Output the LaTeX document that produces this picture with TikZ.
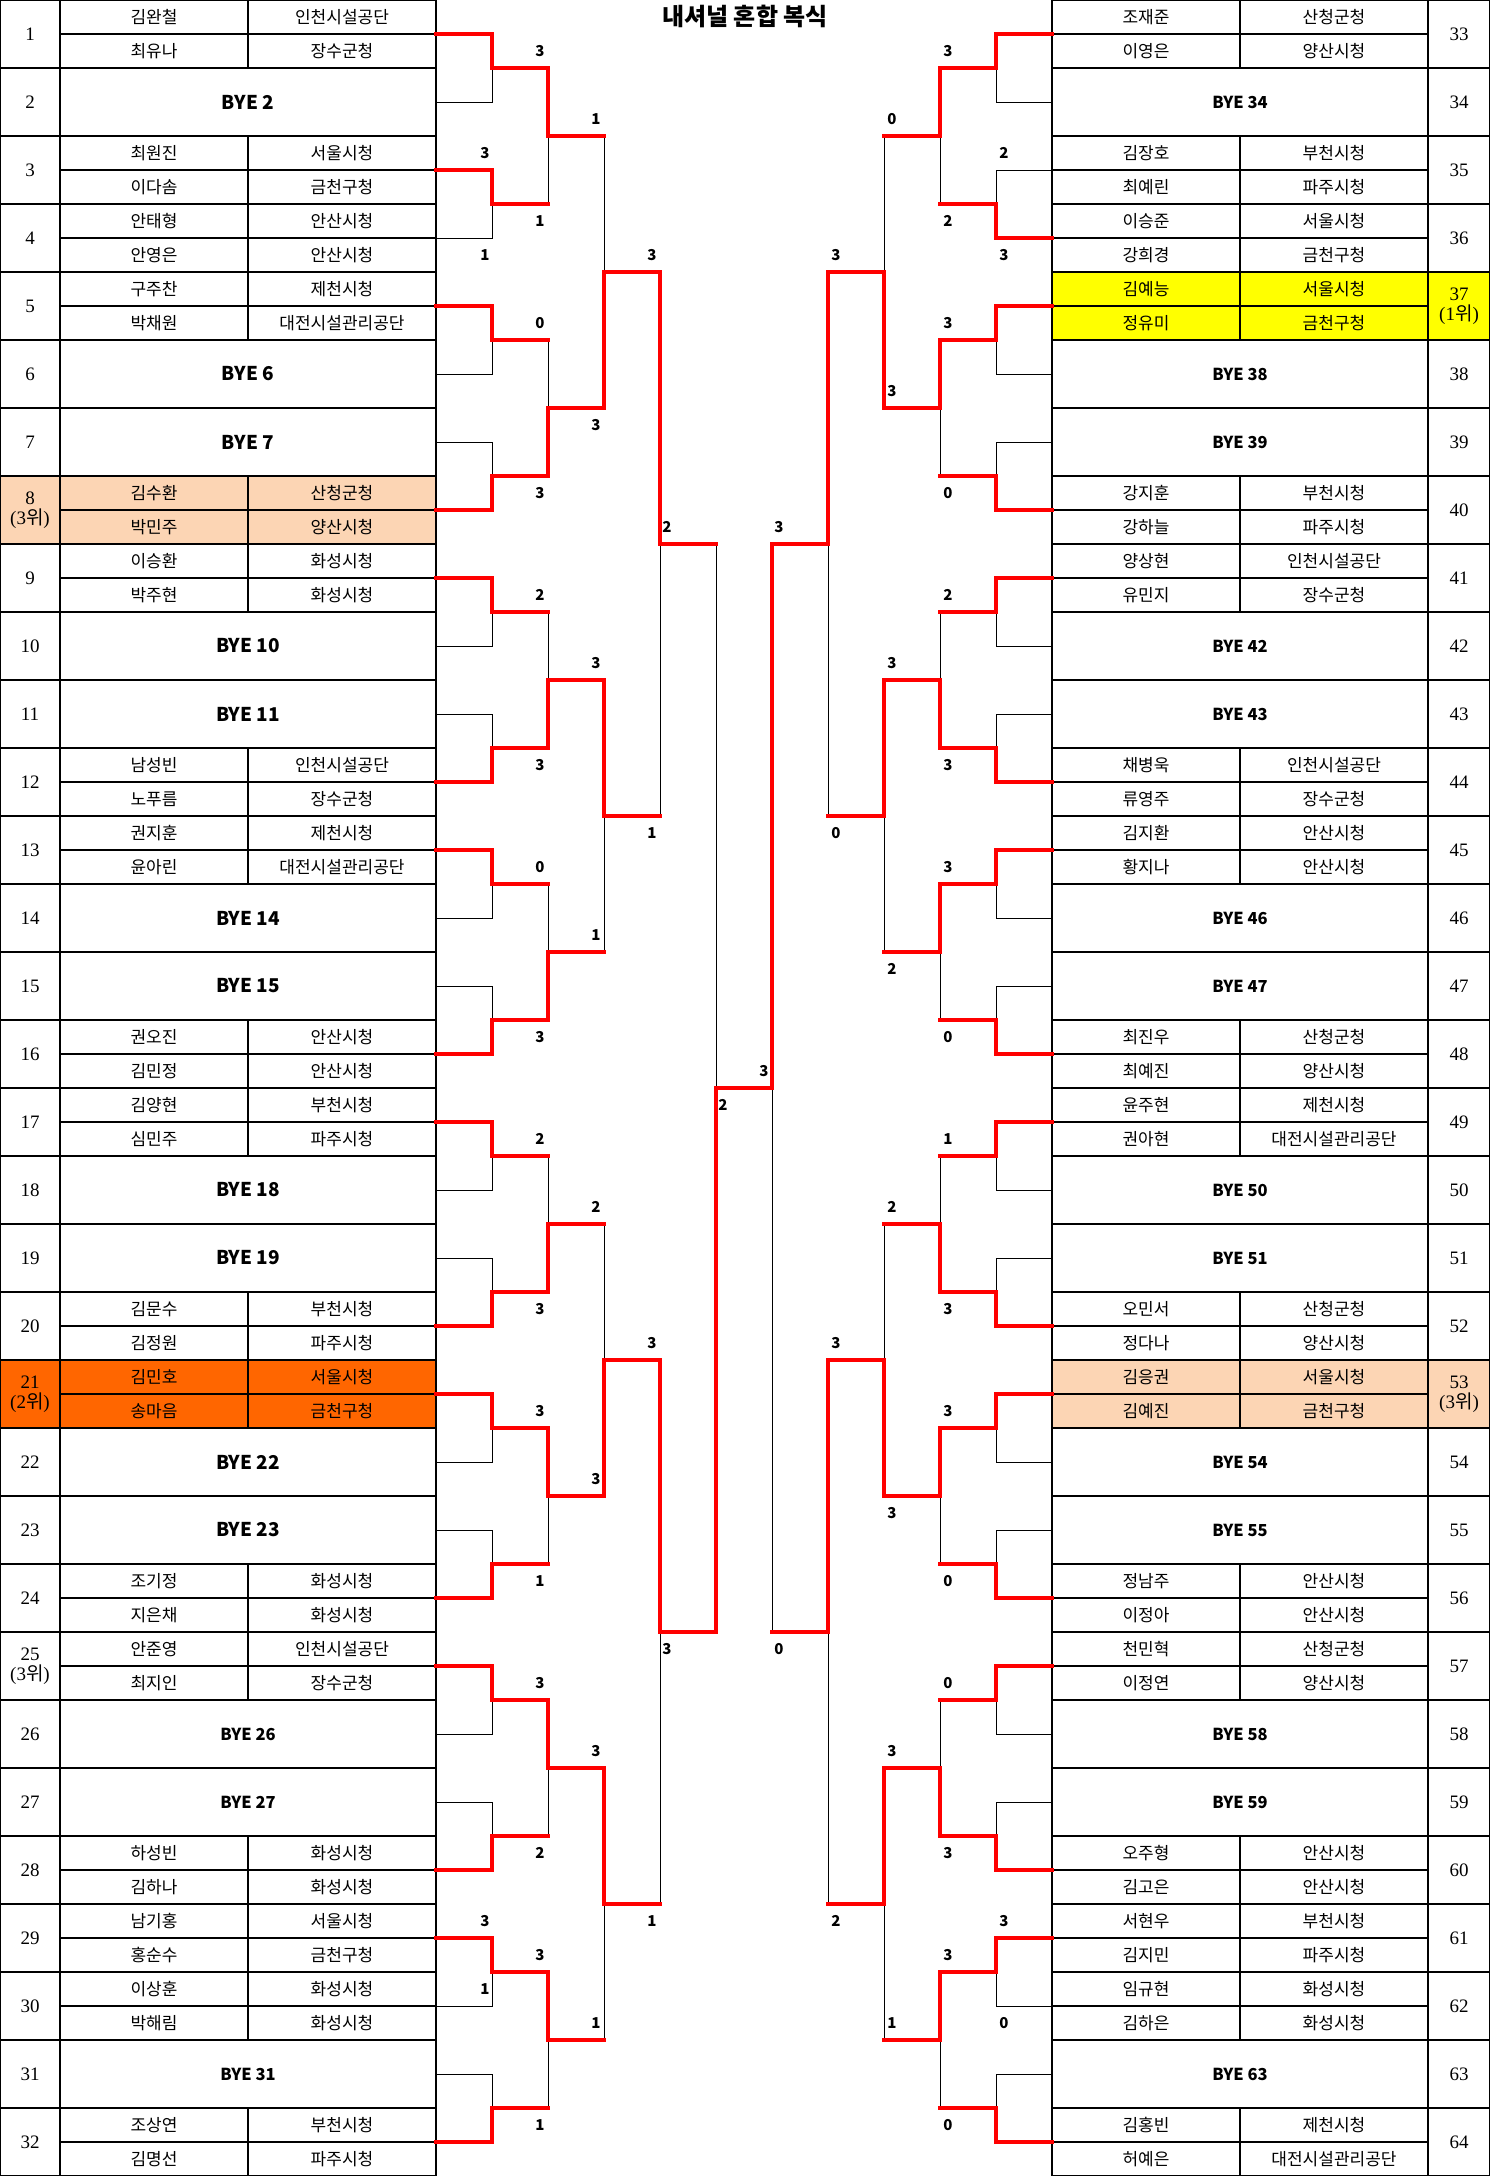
\documentclass[tikz,border=0pt]{standalone}
\usepackage{fontspec}
\setmainfont{Liberation Serif}
\newfontfamily\kr{Noto Sans CJK KR}
\usepackage{tikz}
\definecolor{peach}{HTML}{FCD5B4}
\definecolor{orng}{HTML}{FF6600}
\definecolor{yel}{HTML}{FFFF00}
\definecolor{redline}{HTML}{FF0000}
\pgfdeclarelayer{fg}
\pgfsetlayers{main,fg}
\tikzset{
  win/.style={draw=redline, line width=3.2pt, line cap=rect},
  lose/.style={draw=black, line width=1pt},
  grid/.style={draw=black, line width=1.3pt},
  who/.style={font=\kr\fontsize{17}{19}\selectfont, inner sep=0pt},
  bye/.style={font=\kr\bfseries\fontsize{19}{21}\selectfont, inner sep=0pt},
  byesm/.style={font=\kr\bfseries\fontsize{16.5}{18}\selectfont, inner sep=0pt},
  seed/.style={font=\fontsize{19}{20}\selectfont, inner sep=0pt, align=center},
  score/.style={font=\kr\bfseries\fontsize{15}{17}\selectfont, inner sep=0pt}
}
% first round: entry lines, verticals, outputs
\newcommand{\firstround}[3]{%
  \foreach \w [count=\k] in {#3} {
    \pgfmathsetmacro\yw{136*(\k-1)+34+68*\w}
    \pgfmathsetmacro\yl{136*(\k-1)+102-68*\w}
    \pgfmathsetmacro\ym{136*(\k-1)+68}
    \pgfmathsetmacro\xv{#1+(#2)*56}
    \pgfmathsetmacro\xn{#1+(#2)*112}
    \draw[lose] (#1,\yl) -- (\xv,\yl) -- (\xv,\ym);
    \begin{pgfonlayer}{fg}
      \draw[win] (#1,\yw) -- (\xv,\yw) -- (\xv,\ym) -- (\xn,\ym);
    \end{pgfonlayer}
  }
}
% later rounds: winner/top score/bottom score/bottom label side
\newcommand{\rnd}[5]{%
  \foreach \w/\sct/\scb/\dr [count=\k] in {#5} {
    \pgfmathsetmacro\sz{68*2^#4}
    \pgfmathsetmacro\yt{\sz*(\k-1)+\sz/4}
    \pgfmathsetmacro\yb{\sz*(\k-1)+3*\sz/4}
    \pgfmathsetmacro\ym{\sz*(\k-1)+\sz/2}
    \pgfmathsetmacro\yw{\w==0 ? \yt : \yb}
    \pgfmathsetmacro\yl{\w==0 ? \yb : \yt}
    \pgfmathsetmacro\yst{\yt-17}
    \pgfmathsetmacro\ysb{\yb+17*\dr}
    \pgfmathsetmacro\xv{#2+#3*56*#4}
    \pgfmathsetmacro\xn{\xv+#3*56}
    \pgfmathsetmacro\xs{\xv-#3*8}
    \draw[lose] (\xv,\yl) -- (\xv,\ym);
    \begin{pgfonlayer}{fg}
      \draw[win] (\xv,\yw) -- (\xv,\ym) -- (\xn,\ym);
    \end{pgfonlayer}
    \node[score] (#1-#4-\k-t) at (\xs,\yst) {\sct};
    \node[score] (#1-#4-\k-b) at (\xs,\ysb) {\scb};
  }
}

\begin{document}
\begin{tikzpicture}[x=1pt,y=-1pt]
\useasboundingbox (0,0) rectangle (1490,2176);
\fill[white] (0,0) rectangle (1490,2176);
% highlighted entries
\fill[peach] (0,476) rectangle (436,544);
\fill[orng] (0,1360) rectangle (436,1428);
\fill[yel] (1052,272) rectangle (1490,340);
\fill[peach] (1052,1360) rectangle (1490,1428);

% table frames
\draw[grid] (0.7,0.7) rectangle (436,2175.3);
\draw[grid] (60,0.7) -- (60,2175.3);
\draw[grid] (1052,0.7) rectangle (1489.3,2175.3);
\draw[grid] (1428,0.7) -- (1428,2175.3);
\foreach \k in {1,...,31} {
  \draw[grid] (0,68*\k) -- (436,68*\k);
  \draw[grid] (1052,68*\k) -- (1490,68*\k);
}

% left players
\foreach \i/\nmA/\tmA/\nmB/\tmB in {1/김완철/인천시설공단/최유나/장수군청,3/최원진/서울시청/이다솜/금천구청,4/안태형/안산시청/안영은/안산시청,5/구주찬/제천시청/박채원/대전시설관리공단,8/김수환/산청군청/박민주/양산시청,9/이승환/화성시청/박주현/화성시청,12/남성빈/인천시설공단/노푸름/장수군청,13/권지훈/제천시청/윤아린/대전시설관리공단,16/권오진/안산시청/김민정/안산시청,17/김양현/부천시청/심민주/파주시청,20/김문수/부천시청/김정원/파주시청,21/김민호/서울시청/송마음/금천구청,24/조기정/화성시청/지은채/화성시청,25/안준영/인천시설공단/최지인/장수군청,28/하성빈/화성시청/김하나/화성시청,29/남기홍/서울시청/홍순수/금천구청,30/이상훈/화성시청/박해림/화성시청,32/조상연/부천시청/김명선/파주시청} {
  \draw[grid] (60,68*\i-34) -- (436,68*\i-34);
  \draw[grid] (248,68*\i-68) -- (248,68*\i);
  \node[who] (na\i) at (154,68*\i-51) {\nmA};
  \node[who] (ta\i) at (342,68*\i-51) {\tmA};
  \node[who] (nb\i) at (154,68*\i-17) {\nmB};
  \node[who] (tb\i) at (342,68*\i-17) {\tmB};
}
% right players
\foreach \i/\nmA/\tmA/\nmB/\tmB in {33/조재준/산청군청/이영은/양산시청,35/김장호/부천시청/최예린/파주시청,36/이승준/서울시청/강희경/금천구청,37/김예능/서울시청/정유미/금천구청,40/강지훈/부천시청/강하늘/파주시청,41/양상현/인천시설공단/유민지/장수군청,44/채병욱/인천시설공단/류영주/장수군청,45/김지환/안산시청/황지나/안산시청,48/최진우/산청군청/최예진/양산시청,49/윤주현/제천시청/권아현/대전시설관리공단,52/오민서/산청군청/정다나/양산시청,53/김응권/서울시청/김예진/금천구청,56/정남주/안산시청/이정아/안산시청,57/천민혁/산청군청/이정연/양산시청,60/오주형/안산시청/김고은/안산시청,61/서현우/부천시청/김지민/파주시청,62/임규현/화성시청/김하은/화성시청,64/김홍빈/제천시청/허예은/대전시설관리공단} {
  \draw[grid] (1052,68*\i-2210) -- (1428,68*\i-2210);
  \draw[grid] (1240,68*\i-2244) -- (1240,68*\i-2176);
  \node[who] (na\i) at (1146,68*\i-2227) {\nmA};
  \node[who] (ta\i) at (1334,68*\i-2227) {\tmA};
  \node[who] (nb\i) at (1146,68*\i-2193) {\nmB};
  \node[who] (tb\i) at (1334,68*\i-2193) {\tmB};
}

% byes
\foreach \i in {2,6,7,10,11,14,15,18,19,22,23}
  \node[bye] (bye\i) at (248,68*\i-34) {BYE \i};
\foreach \i in {26,27,31}
  \node[byesm] (bye\i) at (248,68*\i-34) {BYE \i};
\foreach \i in {34,38,39,42,43,46,47,50,51,54,55,58,59,63}
  \node[byesm] (bye\i) at (1240,68*\i-2210) {BYE \i};

% seed numbers
\foreach \i in {1,2,3,4,5,6,7,9,10,11,...,20,22,23,24,26,27,...,32}
  \node[seed] (no\i) at (30,68*\i-34) {\i};
\node[seed] (no8) at (30,510) {8\\(3{\kr 위})};
\node[seed] (no21) at (30,1394) {21\\(2{\kr 위})};
\node[seed] (no25) at (30,1666) {25\\(3{\kr 위})};
\foreach \i in {33,34,35,36,38,39,...,52,54,55,...,64}
  \node[seed] (no\i) at (1459,68*\i-2210) {\i};
\node[seed] (no37) at (1459,306) {37\\(1{\kr 위})};
\node[seed] (no53) at (1459,1394) {53\\(3{\kr 위})};

\node[font=\kr\bfseries\fontsize{24}{26}\selectfont] (title) at (745,16) {내셔널 혼합 복식};

% bracket, left half
\firstround{436}{1}{0,0,0,1,0,1,0,1,0,1,0,1,0,1,0,1}
\rnd{L}{436}{1}{2}{0/3/1/1,1/0/3/1,1/2/3/1,1/0/3/1,1/2/3/1,0/3/1/1,0/3/2/1,0/3/1/1}
\rnd{L}{436}{1}{3}{1/1/3/1,0/3/1/-1,1/2/3/-1,0/3/1/-1}
\rnd{L}{436}{1}{4}{0/3/1/1,0/3/1/1}
% bracket, right half
\firstround{1052}{-1}{0,1,0,1,0,1,0,1,0,1,0,1,0,1,0,1}
\rnd{R}{1052}{-1}{2}{0/3/2/1,0/3/0/1,1/2/3/1,0/3/0/1,1/1/3/1,0/3/0/1,1/0/3/1,0/3/0/1}
\rnd{R}{1052}{-1}{3}{1/0/3/-1,0/3/2/1,1/2/3/1,0/3/1/-1}
\rnd{R}{1052}{-1}{4}{0/3/0/1,0/3/2/1}

% first round scores
\node[score] (L-1-2-t) at (485,153) {3};
\node[score] (L-1-2-b) at (485,255) {1};
\node[score] (L-1-15-t) at (485,1921) {3};
\node[score] (L-1-15-b) at (485,1989) {1};
\node[score] (R-1-2-t) at (1004,153) {2};
\node[score] (R-1-2-b) at (1004,255) {3};
\node[score] (R-1-15-t) at (1004,1921) {3};
\node[score] (R-1-15-b) at (1004,2023) {0};

% semifinals and final
\draw[lose] (716,544) -- (716,1088);
\draw[lose] (772,1632) -- (772,1088);
\begin{pgfonlayer}{fg}
  \draw[win] (716,1632) -- (716,1088) -- (772,1088);
  \draw[win] (772,544) -- (772,1088);
\end{pgfonlayer}
\node[score] (L-5-t) at (667,527) {2};
\node[score] (L-5-b) at (667,1649) {3};
\node[score] (R-5-t) at (779,527) {3};
\node[score] (R-5-b) at (779,1649) {0};
\node[score] (fin-R) at (764,1071) {3};
\node[score] (fin-L) at (723,1105) {2};
\end{tikzpicture}
\end{document}
